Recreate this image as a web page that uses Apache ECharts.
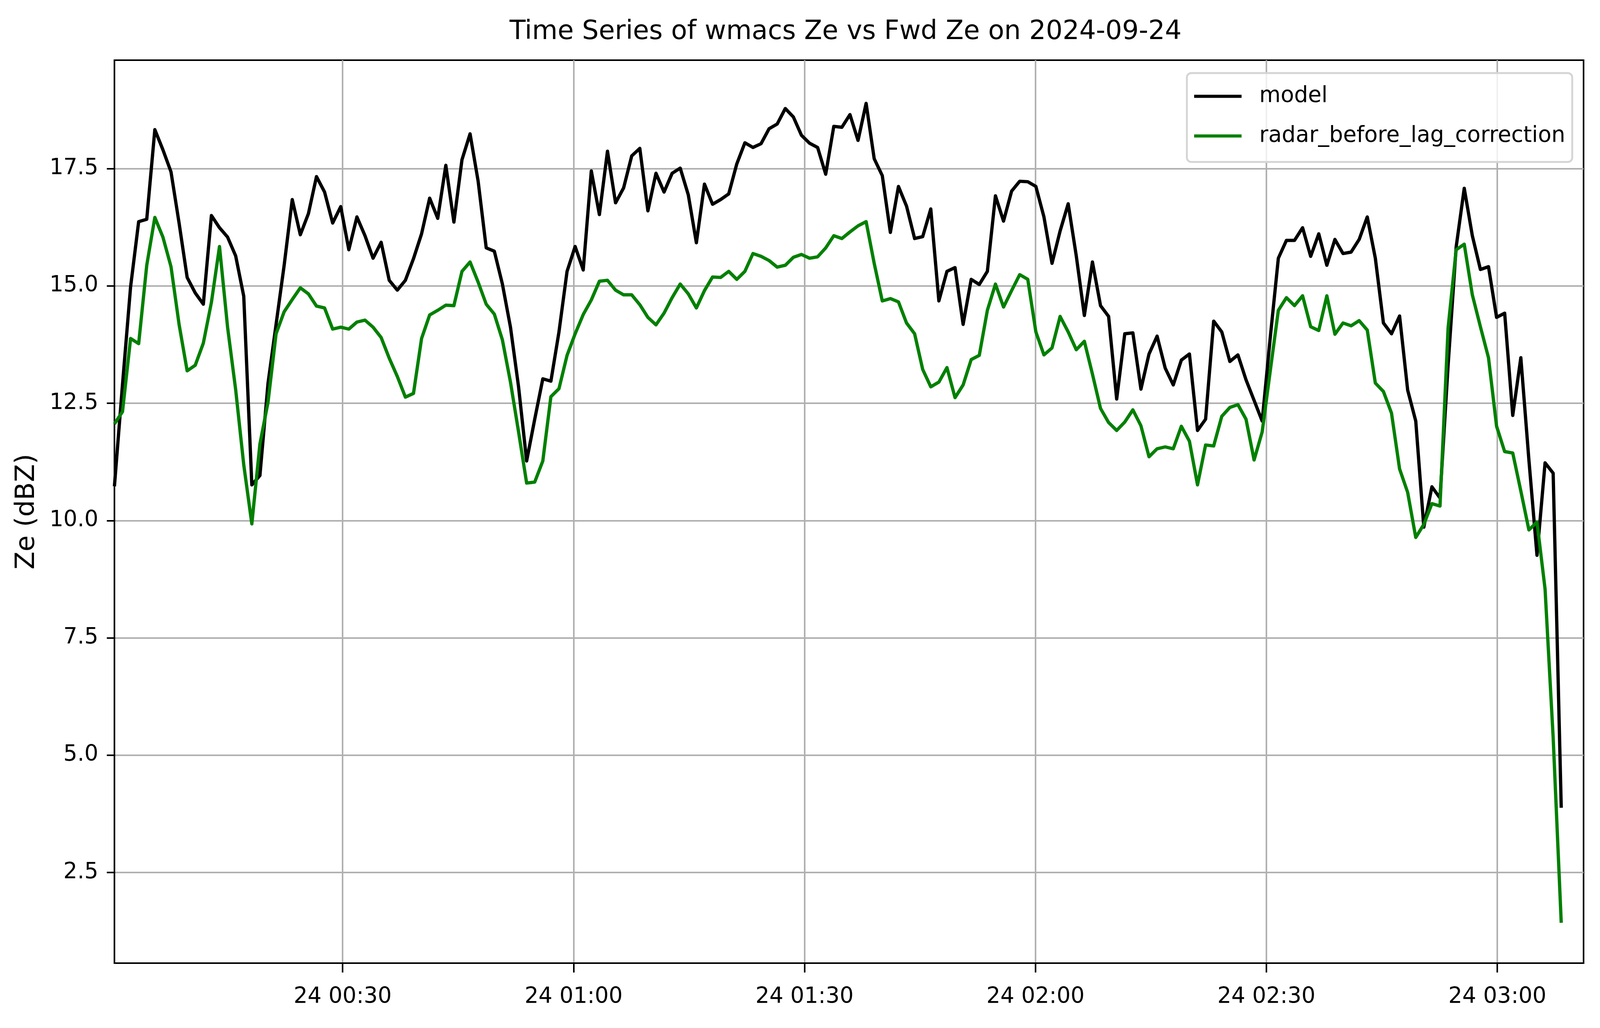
<!DOCTYPE html>
<html>
<head>
<meta charset="utf-8">
<script src="https://cdn.jsdelivr.net/npm/echarts@6/dist/echarts.min.js"></script>
<style>
  html, body { margin: 0; padding: 0; background: #ffffff; overflow: hidden; }
  #chart { position: absolute; left: 0; top: 0; }
</style>
</head>
<body>
<div id="chart"></div>
<script>
// ---- data ----
const titleText = 'Time Series of wmacs Ze vs Fwd Ze on 2024-09-24';
const yAxisName = 'Ze (dBZ)';
const seriesNames = ['model', 'radar_before_lag_correction'];

// sample times: first sample at 00:00:21, one sample every ~63 s (minutes after midnight)
const sampleStartMinute = 0.35;
const sampleStepMinute = 63 / 60;

const modelZe = [
  10.73, 12.9, 14.98, 16.37, 16.42, 18.33, 17.90, 17.43, 16.34, 15.18, 14.85, 14.61, 16.50, 16.24, 16.04, 15.64, 14.78, 10.76, 10.96, 12.92, 14.18, 15.44, 16.84, 16.09,
  16.54, 17.33, 17.00, 16.34, 16.69, 15.77, 16.47, 16.07, 15.59, 15.93, 15.12, 14.91, 15.12, 15.58, 16.11, 16.87, 16.44, 17.57, 16.36, 17.69, 18.24, 17.23,
  15.81, 15.74, 15.04, 14.12, 12.85, 11.27, 12.16, 13.02, 12.97, 14.02, 15.31, 15.84, 15.34, 17.45, 16.52, 17.87, 16.77, 17.09, 17.77, 17.93, 16.60, 17.40, 17.00,
  17.40, 17.51, 16.94, 15.92, 17.17, 16.74, 16.84, 16.96, 17.60, 18.05, 17.95, 18.03, 18.35, 18.45, 18.78, 18.60, 18.21, 18.04, 17.95, 17.38, 18.40, 18.38, 18.65,
  18.10, 18.89, 17.71, 17.35, 16.14, 17.12, 16.70, 16.01, 16.05, 16.64, 14.68, 15.31, 15.39, 14.18, 15.14, 15.03, 15.31, 16.92, 16.38, 17.02, 17.23, 17.22,
  17.12, 16.47, 15.48, 16.17, 16.75, 15.64, 14.37, 15.51, 14.58, 14.35, 12.59, 13.98, 14.00, 12.80, 13.55, 13.93, 13.25, 12.89, 13.42, 13.55, 11.92, 12.16, 14.25,
  14.02, 13.39, 13.53, 13.00, 12.56, 12.12, 13.9, 15.59, 15.97, 15.97, 16.24, 15.63, 16.11, 15.44, 15.99, 15.69, 15.72, 15.99, 16.47, 15.59, 14.21, 13.98, 14.36,
  12.78, 12.12, 9.86, 10.72, 10.48, 13.3, 15.83, 17.08, 16.07, 15.35, 15.41, 14.33, 14.42, 12.24, 13.47, 11.29, 9.26, 11.23, 11.01, 3.88
];

const radarZe = [
  12.06, 12.32, 13.88, 13.77, 15.44, 16.46, 16.04, 15.41, 14.18, 13.19, 13.31, 13.78, 14.65, 15.84, 14.12, 12.79, 11.19, 9.93, 11.63, 12.52, 13.98, 14.45, 14.71, 14.96,
  14.83, 14.57, 14.53, 14.08, 14.12, 14.08, 14.23, 14.27, 14.12, 13.90, 13.46, 13.07, 12.63, 12.71, 13.88, 14.38, 14.48, 14.59, 14.58, 15.31, 15.51, 15.08,
  14.61, 14.40, 13.85, 12.95, 11.89, 10.80, 10.82, 11.27, 12.64, 12.81, 13.52, 13.98, 14.39, 14.70, 15.10, 15.12, 14.91, 14.81, 14.81, 14.60, 14.33, 14.17, 14.42,
  14.75, 15.04, 14.83, 14.53, 14.90, 15.19, 15.18, 15.31, 15.14, 15.31, 15.69, 15.63, 15.54, 15.40, 15.44, 15.61, 15.67, 15.59, 15.62, 15.81, 16.07, 16.01, 16.15,
  16.28, 16.37, 15.48, 14.68, 14.73, 14.66, 14.21, 13.98, 13.22, 12.85, 12.95, 13.26, 12.62, 12.89, 13.43, 13.52, 14.48, 15.04, 14.55, 14.90, 15.24, 15.14,
  14.02, 13.53, 13.68, 14.35, 14.02, 13.64, 13.82, 13.12, 12.39, 12.09, 11.92, 12.10, 12.36, 12.02, 11.36, 11.53, 11.57, 11.53, 12.01, 11.69, 10.76, 11.61, 11.59,
  12.22, 12.41, 12.47, 12.16, 11.29, 11.89, 13.19, 14.48, 14.75, 14.58, 14.79, 14.13, 14.05, 14.79, 13.97, 14.21, 14.15, 14.26, 14.06, 12.93, 12.75, 12.29, 11.10,
  10.60, 9.64, 9.92, 10.36, 10.31, 14.10, 15.77, 15.89, 14.81, 14.13, 13.47, 12.01, 11.47, 11.44, 10.63, 9.80, 9.97, 8.54, 5.38, 1.43
];

const xTickMinutes = [30, 60, 90, 120, 150, 180];
const xTickLabels = ['24 00:30', '24 01:00', '24 01:30', '24 02:00', '24 02:30', '24 03:00'];
const yTickValues = [2.5, 5.0, 7.5, 10.0, 12.5, 15.0, 17.5];

// ---- layout: designed for 5062 x 2631, scaled to the actual viewport ----
const BASE_W = 5062, BASE_H = 2631;
const W = document.documentElement.clientWidth || window.innerWidth || BASE_W;
const H = document.documentElement.clientHeight || window.innerHeight || BASE_H;
const sx = W / BASE_W, sy = H / BASE_H, s = Math.min(sx, sy);
const X = v => v * sx, Y = v => v * sy, S = v => v * s;

const el = document.getElementById('chart');
el.style.width = W + 'px';
el.style.height = H + 'px';

const FONT = 'DejaVu Sans';
const chart = echarts.init(el, null, { renderer: 'canvas', width: W, height: H });

function toPairs(values) {
  return values.map((v, i) => [sampleStartMinute + i * sampleStepMinute, v]);
}

const titleFont = S(83);
const option = {
  animation: false,
  backgroundColor: '#ffffff',
  title: {
    text: titleText,
    left: X(1612),
    top: Y(83) - titleFont / 2,
    padding: 0,
    textStyle: { fontFamily: FONT, fontSize: titleFont, fontWeight: 'normal', color: '#000000', lineHeight: titleFont }
  },
  grid: {
    left: X(362), right: X(52), top: Y(154), bottom: Y(166),
    show: true, borderColor: '#000000', borderWidth: S(5), backgroundColor: 'transparent'
  },
  legend: {
    orient: 'vertical',
    left: X(3755),
    top: Y(187),
    padding: [Y(26), S(22), Y(33), S(23)],
    itemGap: Y(34.5),
    itemWidth: S(150),
    itemHeight: S(10),
    backgroundColor: 'rgba(255,255,255,0.8)',
    borderColor: '#d5d5d5',
    borderWidth: S(6),
    borderRadius: S(14),
    textStyle: { fontFamily: FONT, fontSize: S(69.4), color: '#000000', lineHeight: Y(67), padding: [0, 0, 0, S(50)] },
    data: [
      { name: seriesNames[0], icon: 'rect' },
      { name: seriesNames[1], icon: 'rect' }
    ]
  },
  xAxis: {
    type: 'value',
    min: sampleStartMinute,
    max: 191.2,
    axisLine: { show: true, onZero: false, lineStyle: { color: '#000000', width: S(5) } },
    axisTick: { show: true, length: Y(24), lineStyle: { color: '#000000', width: S(5) }, customValues: xTickMinutes },
    axisLabel: {
      show: true, margin: Y(60), fontFamily: FONT, fontSize: S(69.4), color: '#000000', lineHeight: S(69),
      customValues: xTickMinutes,
      formatter: function (v) {
        const k = xTickMinutes.indexOf(Math.round(v));
        return k >= 0 ? xTickLabels[k] : '';
      }
    },
    splitLine: { show: true, lineStyle: { color: '#b0b0b0', width: S(5) } }
  },
  yAxis: {
    type: 'value',
    min: 0.57,
    max: 19.81,
    name: yAxisName,
    nameLocation: 'middle',
    nameRotate: 90,
    nameGap: X(235),
    nameTextStyle: { fontFamily: FONT, fontSize: S(83), color: '#000000', lineHeight: S(83) },
    axisLine: { show: true, onZero: false, lineStyle: { color: '#000000', width: S(5) } },
    axisTick: { show: true, length: X(24), lineStyle: { color: '#000000', width: S(5) }, customValues: yTickValues },
    axisLabel: {
      show: true, margin: X(51), fontFamily: FONT, fontSize: S(69.4), color: '#000000',
      customValues: yTickValues,
      formatter: function (v) { return Number(v).toFixed(1); }
    },
    splitLine: { show: true, lineStyle: { color: '#b0b0b0', width: S(5) } }
  },
  series: [
    {
      name: seriesNames[0],
      type: 'line',
      data: toPairs(modelZe),
      showSymbol: false,
      symbol: 'none',
      color: '#000000',
      lineStyle: { color: '#000000', width: S(10.4), join: 'round', cap: 'butt' },
      emphasis: { disabled: true },
      z: 3
    },
    {
      name: seriesNames[1],
      type: 'line',
      data: toPairs(radarZe),
      showSymbol: false,
      symbol: 'none',
      color: '#008000',
      lineStyle: { color: '#008000', width: S(10.4), join: 'round', cap: 'butt' },
      emphasis: { disabled: true },
      z: 4
    }
  ]
};
chart.setOption(option);
</script>
</body>
</html>
